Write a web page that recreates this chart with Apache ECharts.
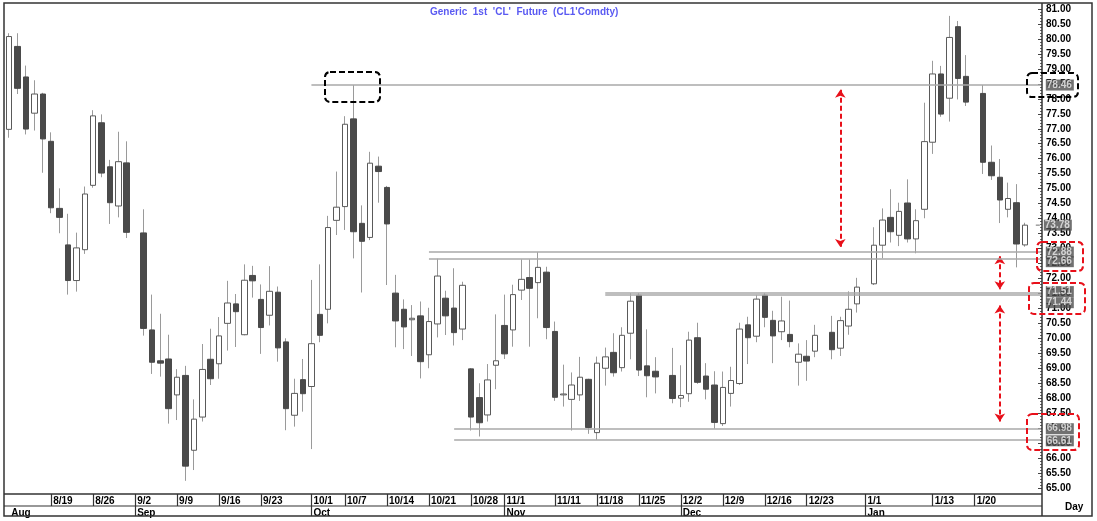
<!DOCTYPE html>
<html><head><meta charset="utf-8">
<script src="https://cdn.jsdelivr.net/npm/echarts@6/dist/echarts.min.js"></script>
<style>html,body{margin:0;padding:0;background:#fff}#c{width:1097px;height:521px}</style>
</head><body><div id="c"></div>
<script>
// ---- DATA ----
const dates = ['8/12','8/13','8/14','8/15','8/16','8/19','8/20','8/21','8/22','8/23','8/26','8/27','8/28','8/29','8/30',
'9/2','9/3','9/4','9/5','9/6','9/9','9/10','9/11','9/12','9/13','9/16','9/17','9/18','9/19','9/20','9/23','9/24','9/25','9/26','9/27','9/30',
'10/1','10/2','10/3','10/4','10/7','10/8','10/9','10/10','10/11','10/14','10/15','10/16','10/17','10/18','10/21','10/22','10/23','10/24','10/25','10/28','10/29','10/30','10/31',
'11/1','11/4','11/5','11/6','11/7','11/8','11/11','11/12','11/13','11/14','11/15','11/18','11/19','11/20','11/21','11/22','11/25','11/26','11/27','11/28','11/29',
'12/2','12/3','12/4','12/5','12/6','12/9','12/10','12/11','12/12','12/13','12/16','12/17','12/18','12/19','12/20','12/23','12/24','12/25','12/26','12/27','12/30','12/31',
'1/1','1/2','1/3','1/6','1/7','1/8','1/9','1/10','1/13','1/14','1/15','1/16','1/17','1/20','1/21','1/22','1/23','1/24','1/27','1/28'];

const open = [76.98,79.75,78.73,77.52,78.16,76.58,74.34,73.12,71.93,72.96,75.11,77.20,75.73,74.42,75.86,
null,73.52,70.28,69.25,69.31,68.11,68.76,66.26,67.37,69.30,69.15,70.50,71.15,70.12,72.10,71.30,70.77,71.54,69.88,67.43,68.62,
68.39,70.80,70.97,73.94,74.40,77.33,73.84,73.37,75.75,75.04,71.51,70.97,70.62,70.75,69.45,70.48,71.34,71.01,70.31,68.98,68.02,67.44,69.10,
70.43,70.28,71.61,72.03,71.86,72.21,70.23,68.11,67.96,68.11,68.63,66.85,69.00,69.53,69.02,70.17,71.44,69.08,68.90,null,68.76,
68.00,68.15,70.02,68.74,68.44,67.15,68.16,68.49,70.45,70.07,71.44,70.60,70.22,70.13,69.20,69.40,69.57,null,70.20,69.67,70.41,71.15,
null,71.82,73.11,74.04,73.44,74.52,73.32,74.31,76.55,78.83,78.02,80.41,78.75,null,78.18,75.88,75.38,74.31,74.53,73.12];

const high = [80.19,80.19,79.11,78.62,78.20,76.88,75.01,74.16,73.53,75.07,77.62,77.48,75.96,76.90,76.58,
null,74.31,71.46,70.82,70.12,68.97,69.08,67.96,69.81,70.32,70.71,71.92,71.48,72.47,72.42,71.80,72.41,71.73,70.00,68.65,69.31,
71.95,72.47,74.09,75.57,77.42,78.46,74.44,76.23,76.07,75.09,72.12,71.30,71.11,71.23,71.02,72.66,71.59,72.34,71.89,69.00,68.50,69.14,70.80,
71.46,71.79,72.64,72.64,72.88,72.39,70.56,69.12,68.86,69.38,68.65,69.39,69.69,70.17,70.37,71.51,71.51,70.30,69.37,null,69.68,
69.10,70.22,70.52,69.17,68.90,68.89,69.05,70.52,70.72,71.45,71.51,70.92,71.39,71.26,69.83,69.94,70.45,null,70.75,70.72,71.57,72.02,
null,73.71,74.34,74.98,74.53,75.31,74.31,77.87,79.27,79.10,80.77,80.60,79.46,null,78.46,76.44,75.99,75.20,75.15,73.86];

const low = [76.70,78.16,76.81,76.94,75.53,74.18,73.51,71.46,71.56,72.82,75.03,75.38,73.82,74.04,73.35,
null,70.09,68.81,68.72,67.15,67.27,65.24,65.60,67.22,68.44,68.65,69.59,69.71,70.10,71.36,69.48,70.43,69.22,66.93,67.05,67.55,
66.30,69.87,70.50,73.45,73.62,72.67,71.53,73.28,74.53,71.78,69.70,69.64,69.41,68.66,69.00,70.03,70.11,69.76,69.94,66.92,66.72,67.22,68.30,
69.31,69.72,71.28,69.72,70.67,69.97,67.91,67.72,66.92,67.91,66.81,66.61,68.42,68.72,68.89,69.30,68.74,68.03,68.16,null,67.83,
67.70,67.88,68.48,67.96,66.98,67.07,67.72,68.44,69.14,69.87,70.37,69.17,69.94,69.70,68.42,68.58,69.37,null,69.30,69.41,70.12,70.86,
null,71.78,72.67,73.20,73.08,73.20,72.84,74.01,76.16,77.40,77.24,77.98,77.76,null,75.49,75.29,73.85,74.04,72.37,73.06];

const close = [80.08,78.35,76.99,78.16,76.66,74.36,74.04,71.93,73.02,74.82,77.43,75.52,74.53,75.90,73.54,
null,70.33,69.20,69.17,67.65,68.70,65.73,67.30,68.96,68.65,70.08,71.18,70.89,71.94,71.92,70.36,71.57,69.68,67.65,68.16,68.15,
69.82,70.10,73.70,74.38,77.15,73.56,73.24,75.85,75.57,73.82,70.58,70.38,70.67,69.22,70.56,72.08,70.75,70.19,71.77,67.37,67.18,68.61,69.25,
69.48,71.46,71.97,71.67,72.37,70.36,68.03,68.14,68.44,68.70,67.02,69.17,69.38,68.85,70.10,71.24,68.94,68.75,68.71,null,67.99,
68.09,69.94,68.53,68.30,67.19,68.36,68.59,70.31,70.02,71.31,70.70,70.08,70.58,69.89,69.47,69.24,70.10,null,69.62,70.59,70.97,71.71,
null,73.11,73.95,73.56,74.24,73.32,73.93,76.57,78.83,77.49,80.05,78.68,77.89,null,75.88,75.43,74.62,74.67,73.15,73.78];

// tick labels
const dateTicks = ['8/19','8/26','9/2','9/9','9/16','9/23','10/1','10/7','10/14','10/21','10/28','11/1','11/11','11/18','11/25','12/2','12/9','12/16','12/23','1/1','1/13','1/20'];
const monthStarts = ['8/12','9/2','10/1','11/1','12/2','1/1'];
const monthNames = ['Aug','Sep','Oct','Nov','Dec','Jan'];

// horizontal levels
const levelValues = [78.46, 72.88, 72.66, 71.51, 71.44, 66.98, 66.61];
const levelStarts = ['10/1','10/21','10/21','11/19','11/19','10/24','10/24'];
const lastPrice = 73.78;

// red arrows
const arrowAt = ['12/27','1/23','1/23'];
const arrowFrom = [78.30, 72.74, 71.10];
const arrowTo = [73.05, 71.64, 67.22];

const titleText = "Generic  1st  'CL'  Future  (CL1'Comdty)";

// ---- BUILD ----
const categories = dates.concat(['', ' ']);
const endIdx = categories.length - 1;
const FONT = 'Liberation Sans, Arial, sans-serif';

const wickData = dates.map((d, i) => open[i] == null ? '-' : [open[i], close[i], low[i], high[i]]);
const bodyData = dates.map((d, i) => open[i] == null ? '-' :
  [open[i], close[i], Math.min(open[i], close[i]), Math.max(open[i], close[i])]);

const tagNudge = {72.66: 3, 71.51: -1.5, 71.44: 7.5, 66.61: 1};
const tagData = levelValues.map(v => ({value: [endIdx, v], label: {offset: [0, tagNudge[v] || 0]}}));
tagData.push({value: [endIdx, lastPrice], symbol: 'rect', symbolSize: [4, 1.2], symbolOffset: [-4, 0],
  itemStyle: {color: '#666'}});

const frameColor = '#333';
const option = {
  animation: false,
  backgroundColor: '#fff',
  textStyle: {fontFamily: FONT},
  title: {text: titleText, left: 425, top: 2,
    textStyle: {color: '#5a5af2', fontSize: 10, fontWeight: 'bold', fontFamily: FONT}},
  grid: {left: 5, right: 51, top: 9, bottom: 33},
  xAxis: [{
    type: 'category', data: categories, boundaryGap: true, position: 'bottom', offset: 6,
    axisLine: {show: false},
    axisTick: {show: true, alignWithLabel: true, length: 12,
      interval: (i, v) => dateTicks.includes(v), lineStyle: {color: frameColor, width: 1.2}},
    axisLabel: {interval: (i, v) => dateTicks.includes(v), align: 'left', padding: [0, 0, 0, 2], margin: 2,
      fontWeight: 'bold', fontSize: 10, color: '#000', fontFamily: FONT},
    splitLine: {show: false}
  }, {
    type: 'category', data: categories, boundaryGap: true, position: 'bottom', offset: 18,
    axisLine: {show: false},
    axisTick: {show: true, alignWithLabel: true, length: 10,
      interval: (i, v) => i > 0 && monthStarts.includes(v), lineStyle: {color: frameColor, width: 1.2}},
    axisLabel: {interval: (i, v) => monthStarts.includes(v), align: 'left', padding: [0, 0, 0, 2], margin: 2,
      formatter: v => monthNames[monthStarts.indexOf(v)] || '',
      fontWeight: 'bold', fontSize: 10, color: '#000', fontFamily: FONT},
    splitLine: {show: false}
  }],
  yAxis: {
    type: 'value', position: 'right', offset: -4, min: 65, max: 81, interval: 0.5,
    axisLine: {show: false},
    axisTick: {show: true, inside: true, length: 4, lineStyle: {color: '#444'}},
    minorTick: {show: true, splitNumber: 5, length: 2, lineStyle: {color: '#666'}},
    axisLabel: {margin: 4, formatter: v => v.toFixed(2), fontWeight: 'bold', fontSize: 10, color: '#000', fontFamily: FONT},
    splitLine: {show: false}
  },
  series: [{
    name: 'wick', type: 'candlestick', data: wickData, barWidth: 1, silent: true,
    itemStyle: {color: '#9a9a9a', color0: '#9a9a9a', borderColor: '#9a9a9a', borderColor0: '#9a9a9a', borderWidth: 1},
    markLine: {
      silent: true, animation: false, symbol: ['arrow', 'arrow'], symbolSize: 8,
      label: {show: false},
      lineStyle: {color: '#e8101a', width: 2, type: [5, 3]},
      data: arrowAt.map((d, i) => [{coord: [d, arrowFrom[i]]}, {coord: [d, arrowTo[i]]}])
    }
  }, {
    name: 'body', type: 'candlestick', data: bodyData, barWidth: 6, silent: true,
    itemStyle: {color: '#ffffff', color0: '#4a4a4a', borderColor: '#5a5a5a', borderColor0: '#4a4a4a', borderWidth: 1},
    markLine: {
      silent: true, animation: false, symbol: 'none', label: {show: false},
      lineStyle: {color: '#a8a8a8', width: 1.5, type: 'solid'},
      data: levelValues.map((v, i) => [{coord: [levelStarts[i], v]}, {coord: [endIdx, v]}])
    }
  }, {
    name: 'tags', type: 'scatter', data: tagData, symbolSize: 0, silent: true, z: 10,
    label: {show: true, position: 'right', distance: 4, formatter: p => p.value[1].toFixed(2),
      backgroundColor: '#4d4d4d', color: '#eeeeee', fontWeight: 'bold', fontSize: 10, fontFamily: FONT,
      padding: [1, 2, 0, 1]}
  }],
  graphic: [
    {type: 'rect', silent: true, z: 100, shape: {x: 4, y: 3, width: 1088, height: 513},
      style: {fill: 'none', stroke: frameColor, lineWidth: 1.5}},
    {type: 'line', silent: true, z: 100, shape: {x1: 1042, y1: 3, x2: 1042, y2: 516},
      style: {stroke: frameColor, lineWidth: 1.5}},
    {type: 'line', silent: true, z: 100, shape: {x1: 4, y1: 494, x2: 1042, y2: 494},
      style: {stroke: frameColor, lineWidth: 1.5}},
    {type: 'line', silent: true, z: 100, shape: {x1: 4, y1: 506, x2: 1042, y2: 506},
      style: {stroke: frameColor, lineWidth: 1.2}},
    {type: 'text', silent: true, z: 100, x: 1065, y: 502,
      style: {text: 'Day', font: 'bold 10px ' + FONT, fill: '#000'}},
    {type: 'rect', silent: true, z: 100, shape: {x: 325, y: 72, width: 55, height: 30, r: 5},
      style: {fill: 'none', stroke: '#000', lineWidth: 2, lineDash: [6, 3]}},
    {type: 'rect', silent: true, z: 100, shape: {x: 1027, y: 73, width: 51, height: 24, r: 5},
      style: {fill: 'none', stroke: '#000', lineWidth: 2, lineDash: [6, 3]}},
    {type: 'rect', silent: true, z: 100, shape: {x: 1037, y: 242, width: 46, height: 29, r: 5},
      style: {fill: 'none', stroke: '#e8101a', lineWidth: 2, lineDash: [6, 3]}},
    {type: 'rect', silent: true, z: 100, shape: {x: 1029, y: 283, width: 56, height: 31, r: 5},
      style: {fill: 'none', stroke: '#e8101a', lineWidth: 2, lineDash: [6, 3]}},
    {type: 'rect', silent: true, z: 100, shape: {x: 1027, y: 414, width: 52, height: 36, r: 5},
      style: {fill: 'none', stroke: '#e8101a', lineWidth: 2, lineDash: [6, 3]}}
  ]
};

const chart = echarts.init(document.getElementById('c'), null, {renderer: 'canvas'});
chart.setOption(option);
</script>
</body></html>
